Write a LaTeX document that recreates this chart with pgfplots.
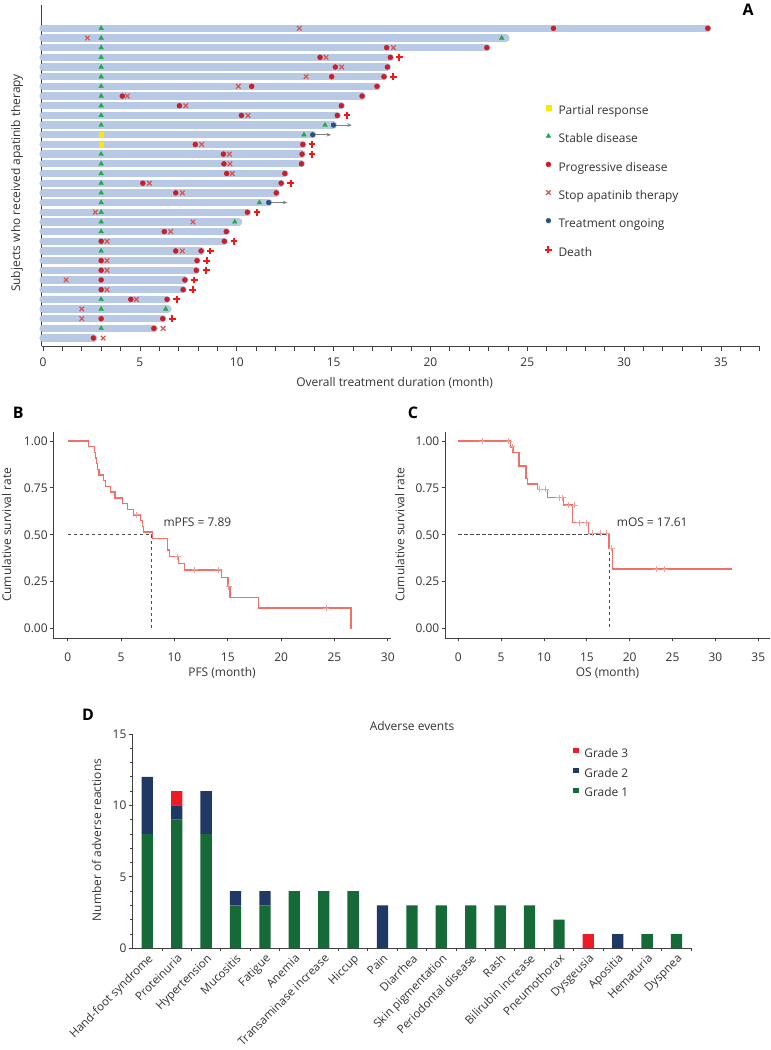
\documentclass[border=0pt]{standalone}
\usepackage{fontspec}
\setmainfont{Open Sans}
\usepackage{pgfplots}
\pgfplotsset{compat=1.18}
\usetikzlibrary{arrows.meta}
\definecolor{barA}{RGB}{183,201,228}
\definecolor{sdgreen}{RGB}{34,170,70}
\definecolor{pdred}{RGB}{200,30,40}
\definecolor{stopx}{RGB}{214,84,80}
\definecolor{ongo}{RGB}{40,80,130}
\definecolor{death}{RGB}{250,20,20}
\definecolor{prylw}{RGB}{255,230,0}
\definecolor{km}{RGB}{244,112,103}
\definecolor{kmc}{RGB}{248,160,152}
\definecolor{g1}{RGB}{22,106,55}
\definecolor{g2}{RGB}{31,56,100}
\definecolor{g3}{RGB}{237,28,36}
\definecolor{txt}{RGB}{51,51,51}
\pgfplotsset{
  every axis/.append style={
    /pgf/number format/assume math mode=true,
    tick label style={text=txt},
    axis line style={black!75, line width=0.8bp},
    tick style={black!75, line width=0.8bp},
  },
}
\begin{document}
\fontsize{12}{14.4}\selectfont
\begin{tikzpicture}[x=1bp,y=1bp]
\useasboundingbox (0,0) rectangle (771,1050);

% ---------------- Panel A ----------------
\begin{axis}[
  at={(41.7bp,703.7bp)}, anchor=south west, scale only axis,
  width=718bp, height=341.3bp,
  xmin=-0.07, xmax=37, ymin=-33.85, ymax=1.41,
  axis x line*=bottom, axis y line*=left,
  ytick=\empty, xtick={0,5,...,35}, minor xtick={0,1,...,37},
  tick align=outside, major tick length=4.3bp, minor tick length=4.3bp,
  xticklabel style={yshift=-3bp},
  clip=false, unbounded coords=jump,
  legend cell align=left,
  legend image code/.code={\draw[#1] plot coordinates {(0bp,3.6bp)};},
  legend style={draw=none, fill=none, at={(0.701,0.7064)}, anchor=north west,
    inner sep=0bp, outer sep=0bp, row sep=16.3bp, column sep=6.7bp,
    nodes={inner sep=0bp, text height=9bp, text depth=2.8bp, text=txt}},
]
\addplot[forget plot, barA, line width=7.3bp, line cap=round] coordinates {
(0,-1) (34.32,-1) (0,nan)
(0,-2) (23.90,-2) (0,nan)
(0,-3) (22.91,-3) (0,nan)
(0,-4) (17.93,-4) (0,nan)
(0,-5) (17.78,-5) (0,nan)
(0,-6) (17.60,-6) (0,nan)
(0,-7) (17.24,-7) (0,nan)
(0,-8) (16.47,-8) (0,nan)
(0,-9) (15.40,-9) (0,nan)
(0,-10) (15.19,-10) (0,nan)
(0,-11) (14.99,-11) (0,nan)
(0,-12) (13.92,-12) (0,nan)
(0,-13) (13.41,-13) (0,nan)
(0,-14) (13.37,-14) (0,nan)
(0,-15) (13.34,-15) (0,nan)
(0,-16) (12.48,-16) (0,nan)
(0,-17) (12.29,-17) (0,nan)
(0,-18) (12.04,-18) (0,nan)
(0,-19) (11.65,-19) (0,nan)
(0,-20) (10.55,-20) (0,nan)
(0,-21) (10.10,-21) (0,nan)
(0,-22) (9.46,-22) (0,nan)
(0,-23) (9.36,-23) (0,nan)
(0,-24) (8.16,-24) (0,nan)
(0,-25) (7.95,-25) (0,nan)
(0,-26) (7.91,-26) (0,nan)
(0,-27) (7.32,-27) (0,nan)
(0,-28) (7.23,-28) (0,nan)
(0,-29) (6.40,-29) (0,nan)
(0,-30) (6.45,-30) (0,nan)
(0,-31) (6.18,-31) (0,nan)
(0,-32) (5.75,-32) (0,nan)
(0,-33) (2.62,-33)
};
% arrows (treatment ongoing)
\addplot[forget plot, black!50, line width=1bp, -{Stealth[length=4.5bp,width=3.6bp]}] coordinates {(14.99,-11) (15.94,-11)};
\addplot[forget plot, black!50, line width=1bp, -{Stealth[length=4.5bp,width=3.6bp]}] coordinates {(13.92,-12) (14.87,-12)};
\addplot[forget plot, black!50, line width=1bp, -{Stealth[length=4.5bp,width=3.6bp]}] coordinates {(11.65,-19) (12.61,-19)};
% partial response
\addplot[forget plot, only marks, mark=square*, mark size=2.4bp, color=prylw] coordinates {(3,-12) (3,-13)};
% stable disease
\addplot[forget plot, only marks, mark=triangle*, mark size=2.7bp, color=sdgreen] coordinates {
(3,-1) (3,-2) (3,-3) (3,-4) (3,-5) (3,-6) (3,-7) (3,-8) (3,-9) (3,-10) (3,-11)
(3,-14) (3,-15) (3,-16) (3,-17) (3,-18) (3,-19) (3,-20) (3,-21) (3,-22) (3,-24)
(3,-29) (3,-30) (3,-32)
(23.68,-2) (14.56,-11) (13.47,-12) (11.17,-19) (9.90,-21) (6.33,-30)
};
% progressive disease
\addplot[forget plot, only marks, mark=*, mark size=2.5bp, color=pdred] coordinates {
(26.35,-1) (34.32,-1)
(17.74,-3) (22.91,-3)
(14.30,-4) (17.93,-4)
(15.09,-5) (17.78,-5)
(14.90,-6) (17.60,-6)
(10.77,-7) (17.24,-7)
(4.09,-8) (16.47,-8)
(7.04,-9) (15.40,-9)
(10.24,-10) (15.19,-10)
(7.86,-13) (13.41,-13)
(9.31,-14) (13.37,-14)
(9.34,-15) (13.34,-15)
(9.48,-16) (12.48,-16)
(5.15,-17) (12.29,-17)
(6.85,-18) (12.04,-18)
(10.55,-20)
(6.26,-22) (9.46,-22)
(3,-23) (9.36,-23)
(6.85,-24) (8.16,-24)
(3,-25) (7.95,-25)
(3,-26) (7.91,-26)
(3,-27) (7.32,-27)
(3,-28) (7.23,-28)
(4.53,-29) (6.40,-29)
(3,-31) (6.18,-31)
(5.72,-32)
(2.60,-33)
};
% stop apatinib
\addplot[forget plot, only marks, mark=x, mark size=3.2bp, color=stopx, mark options={line width=1.2bp}] coordinates {
(13.23,-1) (2.29,-2) (18.09,-3) (14.61,-4) (15.42,-5) (13.58,-6) (10.08,-7) (4.35,-8)
(7.37,-9) (10.58,-10) (8.19,-13) (9.62,-14) (9.65,-15) (9.77,-16) (5.49,-17) (7.19,-18)
(2.70,-20) (7.74,-21) (6.59,-22) (3.30,-23) (7.19,-24) (3.30,-25) (3.30,-26) (1.19,-27)
(3.30,-28) (4.82,-29) (2.00,-30) (2.00,-31) (6.20,-32) (3.10,-33)
};
% treatment ongoing
\addplot[forget plot, only marks, mark=*, mark size=2.4bp, color=ongo] coordinates {(14.99,-11) (13.92,-12) (11.65,-19)};
% death
\addplot[forget plot, only marks, mark=+, mark size=3.4bp, color=death, mark options={line width=2bp}] coordinates {
(18.39,-4) (18.09,-6) (15.69,-10) (13.89,-13) (13.89,-14) (12.79,-17) (11.05,-20)
(9.86,-23) (8.64,-24) (8.45,-25) (8.42,-26) (7.81,-27) (7.73,-28) (6.90,-29) (6.68,-31)
};
\addlegendimage{only marks, mark=square*, mark size=2.4bp, color=prylw}
\addlegendentry{Partial response}
\addlegendimage{only marks, mark=triangle*, mark size=2.7bp, color=sdgreen}
\addlegendentry{Stable disease}
\addlegendimage{only marks, mark=*, mark size=2.5bp, color=pdred}
\addlegendentry{Progressive disease}
\addlegendimage{only marks, mark=x, mark size=3.2bp, color=stopx, mark options={line width=1.2bp}}
\addlegendentry{Stop apatinib therapy}
\addlegendimage{only marks, mark=*, mark size=2.4bp, color=ongo}
\addlegendentry{Treatment ongoing}
\addlegendimage{only marks, mark=+, mark size=3.4bp, color=death, mark options={line width=2bp}}
\addlegendentry{Death}
\end{axis}
\node[text=txt, rotate=90] at (17,867) {Subjects who received apatinib therapy};
\node[text=txt] at (394.6,666.7) {Overall treatment duration (month)};
\node[font=\bfseries\fontsize{16}{18}\selectfont] at (748,1040) {A};

% ---------------- Panel B ----------------
\begin{axis}[
  at={(53.3bp,412bp)}, anchor=south west, scale only axis,
  width=337.7bp, height=206.4bp,
  xmin=-1.35, xmax=30.3, ymin=-0.05, ymax=1.05,
  axis x line*=bottom, axis y line*=left,
  xtick={0,5,...,30}, ytick={0,0.25,0.5,0.75,1},
  yticklabel style={/pgf/number format/fixed, /pgf/number format/fixed zerofill, /pgf/number format/precision=2, xshift=2bp},
  tick align=outside, major tick length=3.5bp,
  xticklabel style={yshift=-7bp},
  clip=false,
]
\addplot[black!70, line width=0.8bp, dash pattern=on 3.5bp off 2.5bp] coordinates {(0,0.5) (7.89,0.5) (7.89,0)};
\addplot[const plot, km, line width=1.5bp] coordinates {
(0,1) (1.94,0.970) (2.5,0.939) (2.6,0.909) (2.7,0.879) (2.8,0.848) (2.95,0.818)
(3.34,0.788) (3.56,0.758) (4.03,0.727) (4.44,0.697) (5.12,0.667) (5.62,0.636)
(6.16,0.606) (6.84,0.575) (7.0,0.545) (7.09,0.515) (7.97,0.481) (9.34,0.419)
(9.53,0.384) (10.4,0.348) (10.95,0.313) (14.4,0.272) (15.0,0.224) (15.2,0.167)
(17.9,0.11) (26.53,0)
};
\addplot[only marks, mark=+, mark size=3bp, color=kmc, mark options={line width=0.8bp}] coordinates {
(6.47,0.606) (10.3,0.384) (11.9,0.313) (14.1,0.313) (15.1,0.224) (24.2,0.11)
};
\node[anchor=west, inner sep=0bp, text=txt] at (axis cs:8.96,0.567) {mPFS = 7.89};
\end{axis}
\node[text=txt, rotate=90] at (6.7,515) {Cumulative survival rate};
\node[text=txt] at (222,376.6) {PFS (month)};
\node[font=\bfseries\fontsize{16}{18}\selectfont] at (18.3,637.3) {B};

% ---------------- Panel C ----------------
\begin{axis}[
  at={(445bp,412bp)}, anchor=south west, scale only axis,
  width=325bp, height=206.4bp,
  xmin=-1.55, xmax=36.37, ymin=-0.05, ymax=1.05,
  axis x line*=bottom, axis y line*=left,
  xtick={0,5,...,35}, ytick={0,0.25,0.5,0.75,1},
  yticklabel style={/pgf/number format/fixed, /pgf/number format/fixed zerofill, /pgf/number format/precision=2, xshift=2bp},
  tick align=outside, major tick length=3.5bp,
  xticklabel style={yshift=-7bp},
  clip=false,
]
\addplot[black!70, line width=0.8bp, dash pattern=on 3.5bp off 2.5bp] coordinates {(0,0.5) (17.61,0.5) (17.61,0)};
\addplot[const plot, km, line width=1.5bp] coordinates {
(0,1) (6.1,0.969) (6.4,0.938) (7.1,0.867) (7.9,0.80) (8.05,0.77) (9.26,0.742)
(10.42,0.698) (12.25,0.659) (13.34,0.565) (15.17,0.508) (17.61,0.428) (18.0,0.318)
(31.9,0.318)
};
\addplot[only marks, mark=+, mark size=3bp, color=kmc, mark options={line width=0.8bp}] coordinates {
(2.8,1) (5.9,1) (6.3,0.969) (9.5,0.742) (10.2,0.742) (11.8,0.698) (12.2,0.698)
(12.8,0.659) (13.6,0.659) (14.1,0.565) (15.0,0.565) (15.6,0.508) (16.6,0.508)
(17.3,0.508) (17.9,0.428) (23.1,0.318) (24.1,0.318)
};
\node[anchor=west, inner sep=0bp, text=txt] at (axis cs:18.48,0.567) {mOS = 17.61};
\end{axis}
\node[text=txt, rotate=90] at (400,515) {Cumulative survival rate};
\node[text=txt] at (607.5,376.6) {OS (month)};
\node[font=\bfseries\fontsize{16}{18}\selectfont] at (413,637.3) {C};

% ---------------- Panel D ----------------
\begin{axis}[
  at={(132.6bp,101.7bp)}, anchor=south west, scale only axis,
  width=558.6bp, height=214.3bp,
  xmin=-0.5, xmax=18.5, ymin=0, ymax=15,
  ybar stacked, bar width=11.3bp,
  axis x line*=bottom, axis y line*=left,
  xtick={0,...,18},
  xticklabels={Hand-foot syndrome, Proteinuria, Hypertension, Mucositis, Fatigue, Anemia, Transaminase increase, Hiccup, Pain, Diarrhea, Skin pigmentation, Periodontal disease, Rash, Bilirubin increase, Pneumothorax, Dysgeusia, Apositia, Hematuria, Dyspnea},
  minor xtick={0.5,1.5,...,18.5},
  major x tick style={draw=none},
  ytick={0,5,10,15}, minor ytick={1,2,3,4,6,7,8,9,11,12,13,14},
  tick align=outside, major tick length=4bp, minor tick length=3bp,
  xticklabel style={rotate=45, anchor=north east, inner sep=0.5bp, font=\fontsize{11.6}{13}\selectfont},
  yticklabel style={xshift=2bp},
  legend cell align=left, reverse legend,
  legend style={draw=none, fill=none, at={(0.789,0.935)}, anchor=north west,
    inner sep=0bp, outer sep=0bp, row sep=7.7bp, column sep=5.8bp,
    nodes={inner sep=0bp, text height=9bp, text depth=2.8bp, text=txt}},
]
\addplot[fill=g1, draw=none, legend image code/.code={\fill[g1] (-2.6bp,1bp) rectangle (2.6bp,6.2bp);}] coordinates {
(0,8) (1,9) (2,8) (3,3) (4,3) (5,4) (6,4) (7,4) (8,0) (9,3) (10,3) (11,3) (12,3) (13,3) (14,2) (15,0) (16,0) (17,1) (18,1)};
\addlegendentry{Grade 1}
\addplot[fill=g2, draw=none, legend image code/.code={\fill[g2] (-2.6bp,1bp) rectangle (2.6bp,6.2bp);}] coordinates {
(0,4) (1,1) (2,3) (3,1) (4,1) (5,0) (6,0) (7,0) (8,3) (9,0) (10,0) (11,0) (12,0) (13,0) (14,0) (15,0) (16,1) (17,0) (18,0)};
\addlegendentry{Grade 2}
\addplot[fill=g3, draw=none, legend image code/.code={\fill[g3] (-2.6bp,1bp) rectangle (2.6bp,6.2bp);}] coordinates {
(0,0) (1,1) (2,0) (3,0) (4,0) (5,0) (6,0) (7,0) (8,0) (9,0) (10,0) (11,0) (12,0) (13,0) (14,0) (15,1) (16,0) (17,0) (18,0)};
\addlegendentry{Grade 3}
\end{axis}
\node[text=txt] at (412,324) {Adverse events};
\node[text=txt, rotate=90] at (96.7,210) {Number of adverse reactions};
\node[font=\bfseries\fontsize{16}{18}\selectfont] at (88,335) {D};
\end{tikzpicture}
\end{document}
